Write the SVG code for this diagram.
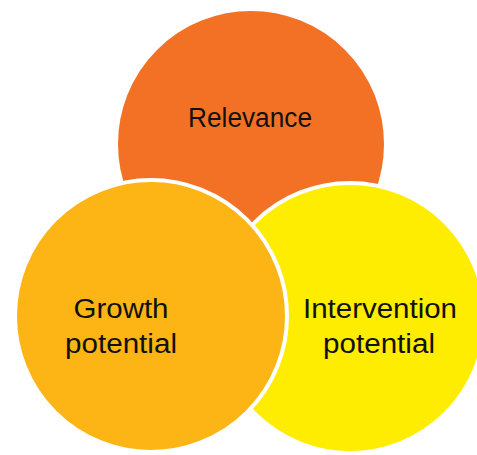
<svg xmlns="http://www.w3.org/2000/svg" width="477" height="455" viewBox="0 0 477 455">
<style>
.c{stroke:#FFFFFF;stroke-width:4}
.t{font-family:"Liberation Sans",Arial,sans-serif;font-size:27px;fill:#111111;text-anchor:middle}
</style>
<rect width="477" height="455" fill="#FFFFFF"/>
<g id="relevance">
<circle class="c" cx="251" cy="144" r="135" fill="#F37125"/>
<text class="t" x="250" y="127" textLength="124" lengthAdjust="spacingAndGlyphs">Relevance</text>
</g>
<g id="intervention">
<circle class="c" cx="350" cy="318" r="135" fill="#FFED00"/>
<text class="t" x="380" y="318" textLength="154" lengthAdjust="spacingAndGlyphs">Intervention</text>
<text class="t" x="379" y="353" textLength="112" lengthAdjust="spacingAndGlyphs">potential</text>
</g>
<g id="growth">
<circle class="c" cx="151" cy="316" r="136" fill="#FCB514"/>
<text class="t" x="121" y="318" textLength="95" lengthAdjust="spacingAndGlyphs">Growth</text>
<text class="t" x="121" y="353" textLength="112" lengthAdjust="spacingAndGlyphs">potential</text>
</g>
<g id="connectors"></g>
</svg>
